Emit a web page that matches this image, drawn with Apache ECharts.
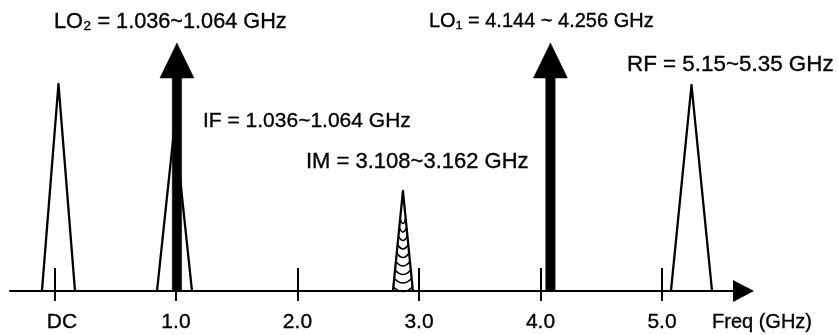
<!DOCTYPE html>
<html>
<head>
<meta charset="utf-8">
<script src="https://cdn.jsdelivr.net/npm/echarts@6/dist/echarts.min.js"></script>
<style>html,body{margin:0;padding:0;background:#fff;}#chart{width:838px;height:335px;}</style>
</head>
<body>
<div id="chart"></div>
<script>
// Axis ticks (GHz) and their labels
const tickValues = [0, 1, 2, 3, 4, 5];
const tickLabels = ['DC', '1.0', '2.0', '3.0', '4.0', '5.0'];

// Triangular spectra: centre frequency (GHz), half bandwidth (GHz), relative height
const triNames = ['DC', 'IF', 'IM', 'RF'];
const triCenters = [0.033, 0.988, 2.868, 5.243];
const triHalfWidths = [0.136, 0.144, 0.082, 0.169];
const triHeights = [207, 165, 100, 206];

// LO tones (arrows): frequency (GHz), relative height
const loNames = ['LO2', 'LO1'];
const loCenters = [1.008, 4.082];
const loHeights = [248, 248];

// Annotation texts
const annoTexts = ['LO₂ = 1.036~1.064 GHz', 'IF = 1.036~1.064 GHz', 'IM = 3.108~3.162 GHz', 'LO₁ = 4.144 ~ 4.256 GHz', 'RF = 5.15~5.35 GHz'];
const axisTitle = 'Freq (GHz)';

const FONT = '"Liberation Sans", "DejaVu Sans", sans-serif';
const chart = echarts.init(document.getElementById('chart'), null, {renderer: 'canvas'});

const triData = triCenters.map((c, i) => [c, triHalfWidths[i], triHeights[i]]);
const loData = loCenters.map((c, i) => [c, loHeights[i]]);

function renderTri(params, api) {
  const c = api.value(0), hw = api.value(1), h = api.value(2);
  const pL = api.coord([c - hw, 0]);
  const pR = api.coord([c + hw, 0]);
  const pT = api.coord([c, h]);
  const children = [{
    type: 'polyline',
    shape: {points: [pL, pT, pR]},
    style: {fill: null, stroke: '#000', lineWidth: 2.3, lineJoin: 'round'}
  }];
  if (triNames[params.dataIndex] === 'IM') {
    const step = 8.5;
    for (let y = pL[1] - 4; y > pT[1] + 24; y -= step) {
      const t = (pL[1] - y) / (pL[1] - pT[1]);
      const xl = pL[0] + (pT[0] - pL[0]) * t;
      const xr = pR[0] + (pT[0] - pR[0]) * t;
      children.push({
        type: 'bezierCurve',
        shape: {x1: xl, y1: y, x2: xr, y2: y, cpx1: (xl + xr) / 2, cpy1: y + 9},
        style: {fill: null, stroke: '#000', lineWidth: 1.6}
      });
    }
  }
  return {type: 'group', children: children};
}

function renderArrow(params, api) {
  const c = api.value(0), h = api.value(1);
  const b = api.coord([c, 0]);
  const t = api.coord([c, h]);
  const x = t[0], headW = 34, headL = 35, sh = 4.7;
  return {
    type: 'polygon',
    shape: {points: [
      [x - sh, b[1]], [x - sh, t[1] + headL], [x - headW / 2, t[1] + headL], [x, t[1]],
      [x + headW / 2, t[1] + headL], [x + sh, t[1] + headL], [x + sh, b[1]]
    ]},
    style: {fill: '#000', stroke: '#000', lineWidth: 0.5}
  };
}

function textStyle(size) {
  return {fontFamily: FONT, fontSize: size, fill: '#000', align: 'left', verticalAlign: 'middle',
    stroke: '#000', lineWidth: 0.35};
}
const annoPos = [[54, 22], [203, 121], [306, 162], [429, 21], [627, 65]];
const annoSizes = [21.7, 21, 22, 20, 22.4];
const graphics = annoTexts.map((s, i) => ({
  type: 'text', x: annoPos[i][0], y: annoPos[i][1], silent: true,
  style: Object.assign({text: s}, textStyle(annoSizes[i]))
}));
graphics.push({type: 'text', x: 712, y: 322, silent: true, style: Object.assign({text: axisTitle}, textStyle(20))});

const option = {
  animation: false,
  backgroundColor: '#fff',
  textStyle: {fontFamily: FONT},
  grid: {left: 10, right: 94.5, top: 0, bottom: 44, containLabel: false},
  xAxis: [{
    type: 'value', position: 'bottom', min: -0.366, max: 5.671,
    axisLine: {show: true, onZero: false, symbol: ['none', 'triangle'], symbolSize: [22, 21],
      lineStyle: {color: '#000', width: 2}},
    axisTick: {show: true, inside: true, length: 23, customValues: tickValues,
      lineStyle: {color: '#000', width: 2}},
    axisLabel: {show: true, customValues: tickValues, margin: 21, color: '#000', fontSize: 21, fontFamily: FONT,
      textBorderColor: '#000', textBorderWidth: 0.35,
      formatter: v => v === 0 ? '{dc|' + tickLabels[0] + '}' : tickLabels[tickValues.indexOf(v)],
      rich: {dc: {padding: [0, 0, 0, 15], fontSize: 21, fontFamily: FONT, color: '#000',
        textBorderColor: '#000', textBorderWidth: 0.35}}},
    splitLine: {show: false}
  }, {
    type: 'value', position: 'bottom', min: -0.366, max: 5.671,
    axisLine: {show: false, onZero: false},
    axisTick: {show: true, inside: false, length: 10, customValues: tickValues,
      lineStyle: {color: '#000', width: 2}},
    axisLabel: {show: false},
    splitLine: {show: false}
  }],
  yAxis: {type: 'value', min: 0, max: 291, show: false, splitLine: {show: false}},
  series: [{
    type: 'custom', name: 'spectra', xAxisIndex: 0, clip: false, z: 3,
    renderItem: renderTri, data: triData
  }, {
    type: 'custom', name: 'LO', xAxisIndex: 0, clip: false, z: 4,
    renderItem: renderArrow, data: loData
  }],
  graphic: graphics
};
chart.setOption(option);
</script>
</body>
</html>
